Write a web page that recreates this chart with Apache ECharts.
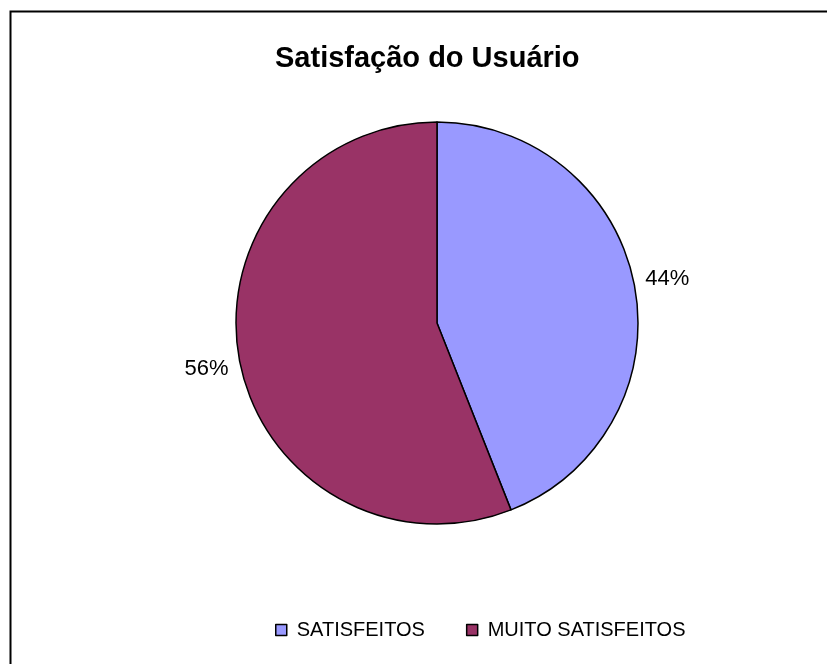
<!DOCTYPE html>
<html>
<head>
<meta charset="utf-8">
<script src="https://cdn.jsdelivr.net/npm/echarts@6/dist/echarts.min.js"></script>
<style>
  html, body { margin: 0; padding: 0; background: #fff; }
  #chart { width: 827px; height: 664px; }
</style>
</head>
<body>
<div id="chart"></div>
<script>
let categories = ['SATISFEITOS', 'MUITO SATISFEITOS'];
let values = [44, 56];
let colors = ['#9999FF', '#993366'];

let chart = echarts.init(document.getElementById('chart'));

let data = [];
for (let i = 0; i < categories.length; i++) {
  data.push({ name: categories[i], value: values[i], itemStyle: { color: colors[i] } });
}

chart.setOption({
  animation: false,
  title: {
    text: 'Satisfação do Usuário',
    left: 270,
    top: 39,
    textStyle: { fontFamily: 'Liberation Sans', fontSize: 29, fontWeight: 'bold', color: '#000' }
  },
  graphic: [{
    type: 'rect',
    shape: { x: 10.5, y: 11.5, width: 840, height: 700 },
    style: { fill: 'none', stroke: '#000', lineWidth: 2 },
    silent: true
  }],
  legend: {
    left: 270,
    top: 615,
    itemWidth: 11,
    itemHeight: 11,
    itemGap: 41,
    icon: 'rect',
    itemStyle: { borderColor: '#000', borderWidth: 1.5 },
    textStyle: { fontFamily: 'Liberation Sans', fontSize: 20, color: '#000', padding: [0, 0, 0, 5] },
    data: categories
  },
  series: [{
    type: 'pie',
    center: [437, 323],
    radius: [0, 201],
    startAngle: 90,
    clockwise: true,
    data: data,
    itemStyle: { borderColor: '#000', borderWidth: 1.5 },
    label: {
      show: true,
      position: 'outside',
      formatter: '{c}%',
      fontFamily: 'Liberation Sans',
      fontSize: 22,
      color: '#000'
    },
    labelLine: { show: false, length: 4, length2: 2 },
    // small nudge so labels sit where Excel put them
    labelLayout: function (params) {
      return { dy: params.dataIndex === 0 ? -6 : 8 };
    },
    emphasis: { disabled: true }
  }]
});
</script>
</body>
</html>
